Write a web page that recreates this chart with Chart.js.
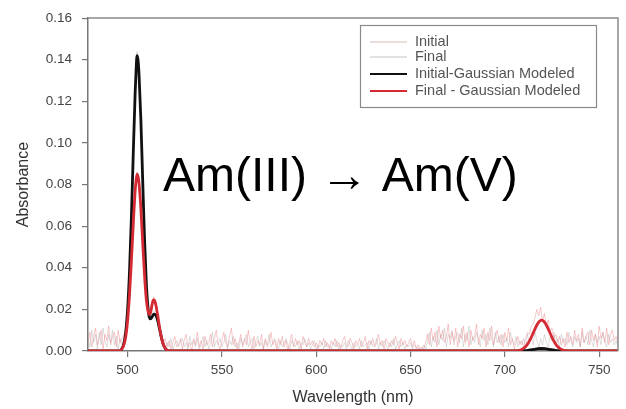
<!DOCTYPE html>
<html>
<head>
<meta charset="utf-8">
<script src="https://cdn.jsdelivr.net/npm/chart.js@4.4.1/dist/chart.umd.min.js"></script>
<style>
  html, body { margin: 0; padding: 0; background: #fff; }
  canvas { display: block; }
</style>
</head>
<body>
<canvas id="spectrum" width="626" height="409"></canvas>
<script>
// ── Am(III) -> Am(V) absorbance spectra ──

// raw spectra, 1 nm grid
const rawWavelengths = [
  479,480,481,482,483,484,485,486,487,488,
  489,490,491,492,493,494,495,496,497,498,
  499,500,501,502,503,504,505,506,507,508,
  509,510,511,512,513,514,515,516,517,518,
  519,520,521,522,523,524,525,526,527,528,
  529,530,531,532,533,534,535,536,537,538,
  539,540,541,542,543,544,545,546,547,548,
  549,550,551,552,553,554,555,556,557,558,
  559,560,561,562,563,564,565,566,567,568,
  569,570,571,572,573,574,575,576,577,578,
  579,580,581,582,583,584,585,586,587,588,
  589,590,591,592,593,594,595,596,597,598,
  599,600,601,602,603,604,605,606,607,608,
  609,610,611,612,613,614,615,616,617,618,
  619,620,621,622,623,624,625,626,627,628,
  629,630,631,632,633,634,635,636,637,638,
  639,640,641,642,643,644,645,646,647,648,
  649,650,651,652,653,654,655,656,657,658,
  659,660,661,662,663,664,665,666,667,668,
  669,670,671,672,673,674,675,676,677,678,
  679,680,681,682,683,684,685,686,687,688,
  689,690,691,692,693,694,695,696,697,698,
  699,700,701,702,703,704,705,706,707,708,
  709,710,711,712,713,714,715,716,717,718,
  719,720,721,722,723,724,725,726,727,728,
  729,730,731,732,733,734,735,736,737,738,
  739,740,741,742,743,744,745,746,747,748,
  749,750,751,752,753,754,755,756,757,758,
  759,760
];

const initialRaw = [
  .006,.002,.010,.004,.008,.001,.009,.003,.011,.005,
  .002,.008,.004,.010,.003,.007,.001,.006,.003,.005,
  .011,.021,.040,.066,.097,.126,.144,.135,.110,.080,
  .055,.035,.020,.017,.018,.019,.016,.013,.008,.005,
  .003,.001,.004,.002,.006,.001,.003,.005,.002,.004,
  .006,.002,.004,.001,.007,.003,.005,.002,.006,.001,
  .003,.007,.002,.005,.001,.004,.009,.002,.005,.003,
  .006,.002,.004,.008,.001,.005,.003,.007,.002,.004,
  .001,.006,.003,.005,.008,.002,.004,.006,.001,.005,
  .007,.002,.004,.001,.005,.003,.008,.002,.004,.006,
  .003,.001,.005,.002,.004,.006,.003,.001,.005,.003,
  .002,.005,.001,.004,.003,.006,.002,.004,.001,.003,
  .005,.001,.003,.002,.004,.001,.005,.002,.003,.001,
  .004,.002,.005,.001,.003,.002,.004,.001,.005,.003,
  .001,.004,.002,.003,.001,.005,.002,.003,.004,.001,
  .005,.002,.003,.006,.001,.004,.002,.005,.003,.001,
  .004,.002,.006,.001,.003,.005,.002,.004,.001,.003,
  .002,.004,.001,.003,.002,.001,.002,.000,.003,.001,
  .005,.009,.002,.007,.004,.010,.003,.008,.005,.011,
  .002,.008,.006,.010,.003,.007,.009,.004,.011,.002,
  .008,.005,.012,.003,.007,.004,.009,.006,.002,.010,
  .005,.008,.003,.011,.006,.002,.009,.004,.007,.003,
  .008,.004,.006,.002,.009,.005,.003,.007,.002,.005,
  .003,.006,.002,.008,.004,.007,.003,.009,.005,.002,
  .006,.003,.008,.004,.002,.007,.005,.009,.003,.006,
  .002,.008,.004,.006,.003,.009,.005,.002,.007,.004,
  .006,.002,.009,.004,.007,.003,.010,.005,.002,.008,
  .004,.007,.003,.009,.005,.002,.008,.004,.006,.003,
  .005,.002
];

const finalRaw = [
  .004,.009,.002,.007,.011,.003,.006,.010,.001,.008,
  .005,.012,.003,.007,.009,.002,.010,.004,.006,.008,
  .009,.016,.028,.045,.060,.078,.086,.080,.070,.053,
  .037,.025,.019,.020,.024,.026,.021,.017,.012,.008,
  .004,.006,.002,.005,.001,.004,.007,.002,.003,.006,
  .001,.005,.008,.002,.004,.000,.006,.003,.009,.002,
  .005,.001,.007,.003,.004,.008,.002,.006,.010,.003,
  .001,.005,.009,.004,.002,.007,.011,.003,.006,.001,
  .004,.008,.002,.006,.003,.010,.004,.001,.007,.002,
  .005,.003,.008,.001,.006,.002,.004,.009,.003,.005,
  .001,.006,.003,.007,.002,.005,.000,.004,.008,.002,
  .006,.003,.005,.001,.007,.004,.002,.006,.003,.005,
  .002,.004,.001,.005,.003,.006,.002,.004,.001,.005,
  .003,.006,.002,.004,.001,.005,.007,.003,.002,.006,
  .004,.001,.005,.003,.006,.002,.004,.007,.001,.005,
  .003,.006,.002,.004,.008,.003,.005,.001,.006,.004,
  .002,.005,.003,.007,.004,.001,.006,.003,.005,.002,
  .004,.006,.002,.005,.001,.003,.000,.002,.001,.004,
  .008,.003,.011,.005,.009,.002,.012,.006,.010,.004,
  .007,.013,.003,.009,.005,.011,.002,.008,.006,.012,
  .004,.009,.002,.010,.005,.007,.013,.003,.008,.006,
  .011,.002,.009,.005,.012,.003,.007,.010,.004,.008,
  .002,.009,.005,.011,.003,.006,.001,.004,.007,.003,
  .005,.002,.006,.009,.008,.012,.013,.016,.020,.017,
  .021,.014,.018,.012,.015,.009,.011,.006,.008,.004,
  .007,.003,.006,.002,.009,.004,.007,.003,.010,.005,
  .008,.002,.011,.004,.007,.009,.003,.010,.005,.008,
  .002,.012,.006,.009,.004,.011,.003,.008,.010,.005,
  .007,.004
];

// gaussian-modeled fits
const modelWavelengths = [
  479, 490, 496, 497, 498, 499, 500, 501, 502, 503,
  504, 504.5, 505, 505.5, 506, 507, 508, 509, 510, 511,
  511.5, 512, 512.5, 513, 513.5, 514, 514.5, 515, 516, 517,
  518, 519, 520, 521, 522, 600, 700, 703.5, 705.5, 707.5,
  709.5, 711.5, 713.5, 715.5, 717.5, 719.5, 721.5, 723.5, 725.5, 727.5,
  729.5, 731.5, 733.5, 735.5, 760
];

const initialModel = [
  0, 0, 0, .0012, .0035, .009, .020, .038, .064, .095,
  .124, .135, .142, .140, .134, .112, .082, .053, .031, .019,
  .0163, .0155, .0157, .0165, .0172, .0177, .0176, .0172, .0145, .0103,
  .0062, .003, .0012, .0003, 0, 0, 0, 0, 0, 0,
  .0001, .0002, .0005, .0008, .0011, .0012, .0011, .0008, .0005, .0002,
  .0001, 0, 0, 0, 0
];

const finalModel = [
  0, 0, 0, .001, .0028, .0068, .0145, .027, .043, .061,
  .077, .082, .085, .084, .081, .069, .052, .036, .024, .0185,
  .0175, .018, .0198, .0225, .0242, .0245, .0238, .022, .0168, .011,
  .0062, .003, .0012, .0003, 0, 0, 0, 0, .0001, .0003,
  .001, .0026, .0056, .0096, .0133, .0148, .0133, .0096, .0056, .0026,
  .001, .0003, .0001, 0, 0
];

const seriesLabels = ['Initial', 'Final', 'Initial-Gaussian Modeled', 'Final - Gaussian Modeled'];
const xTickValues = [500, 550, 600, 650, 700, 750];
const yTickValues = [0, 0.02, 0.04, 0.06, 0.08, 0.10, 0.12, 0.14, 0.16];
const annotationText = 'Am(III) \u2192 Am(V)';

const toPoints = (xs, ys) => xs.map((x, i) => ({ x, y: ys[i] }));

const FONT = '"Liberation Sans", Arial, sans-serif';

// frame, in-plot legend and the big label
const decorPlugin = {
  id: 'decor',
  afterDraw(chart) {
    const { ctx, chartArea: a } = chart;
    ctx.save();
    ctx.strokeStyle = '#8a8a8a';
    ctx.lineWidth = 1.5;
    ctx.beginPath();
    ctx.moveTo(a.left, a.top);
    ctx.lineTo(a.right, a.top);
    ctx.lineTo(a.right, a.bottom);
    ctx.stroke();

    // legend box
    const bx = 360, by = 25, bw = 236, bh = 82;
    ctx.fillStyle = '#fff';
    ctx.fillRect(bx, by, bw, bh);
    ctx.strokeStyle = '#8a8a8a';
    ctx.lineWidth = 1.2;
    ctx.strokeRect(bx + 0.5, by + 0.5, bw, bh);
    const rows = [42, 57, 74, 91];
    const legendColors = ['#e6d0d0', '#d8d8d8', '#111', '#d42a34'];
    ctx.font = '14.5px ' + FONT;
    ctx.textBaseline = 'middle';
    chart.data.datasets.forEach((ds, i) => {
      ctx.strokeStyle = legendColors[i];
      ctx.lineWidth = i < 2 ? 1.5 : 2;
      ctx.beginPath();
      ctx.moveTo(370, rows[i]);
      ctx.lineTo(407, rows[i]);
      ctx.stroke();
      ctx.fillStyle = '#555';
      ctx.fillText(ds.label, 415, rows[i]);
    });

    // annotation
    ctx.fillStyle = '#000';
    ctx.font = '48px ' + FONT;
    ctx.textBaseline = 'alphabetic';
    ctx.fillText(annotationText, 163, 191);
    ctx.restore();
  }
};

const ctx = document.getElementById('spectrum').getContext('2d');
new Chart(ctx, {
  type: 'line',
  data: {
    datasets: [
      { label: seriesLabels[0], data: toPoints(rawWavelengths, initialRaw), borderColor: 'rgba(160,160,160,0.35)', borderWidth: 1, pointRadius: 0, tension: 0, order: 3 },
      { label: seriesLabels[1], data: toPoints(rawWavelengths, finalRaw), borderColor: 'rgba(236,120,125,0.4)', borderWidth: 1, pointRadius: 0, tension: 0, order: 2 },
      { label: seriesLabels[2], data: toPoints(modelWavelengths, initialModel), borderColor: '#111', borderWidth: 2.8, pointRadius: 0, cubicInterpolationMode: 'monotone', order: 1 },
      { label: seriesLabels[3], data: toPoints(modelWavelengths, finalModel), borderColor: '#d42a34', borderWidth: 2.8, pointRadius: 0, cubicInterpolationMode: 'monotone', order: 0 },
    ]
  },
  options: {
    responsive: false,
    animation: false,
    devicePixelRatio: 1,
    layout: { padding: { left: 0, right: 8, top: 16, bottom: 0 } },
    plugins: { legend: { display: false }, tooltip: { enabled: false } },
    scales: {
      x: {
        type: 'linear',
        min: 479, max: 760,
        afterFit: s => { s.height = 58; },
        afterBuildTicks: s => { s.ticks = xTickValues.map(v => ({ value: v })); },
        grid: { drawOnChartArea: false, drawTicks: true, tickLength: 6, color: '#777', lineWidth: 1.2 },
        border: { color: '#777', width: 1.5 },
        ticks: { color: '#444', padding: 5, maxRotation: 0, font: { family: FONT, size: 13.5 } },
        title: { display: true, text: 'Wavelength (nm)', color: '#333', font: { family: FONT, size: 16 }, padding: { top: 0, bottom: 2 } }
      },
      y: {
        min: 0, max: 0.16,
        afterFit: s => { s.width = 88; },
        afterBuildTicks: s => { s.ticks = yTickValues.map(v => ({ value: v })); },
        grid: { drawOnChartArea: false, drawTicks: true, tickLength: 6, color: '#777', lineWidth: 1.2 },
        border: { color: '#777', width: 1.5 },
        ticks: { color: '#444', padding: 10, font: { family: FONT, size: 13.5 }, callback: v => v.toFixed(2) },
        title: { display: true, text: 'Absorbance', color: '#333', font: { family: FONT, size: 16 }, padding: { top: 14, bottom: 0 } }
      }
    }
  },
  plugins: [decorPlugin]
});
</script>
</body>
</html>
